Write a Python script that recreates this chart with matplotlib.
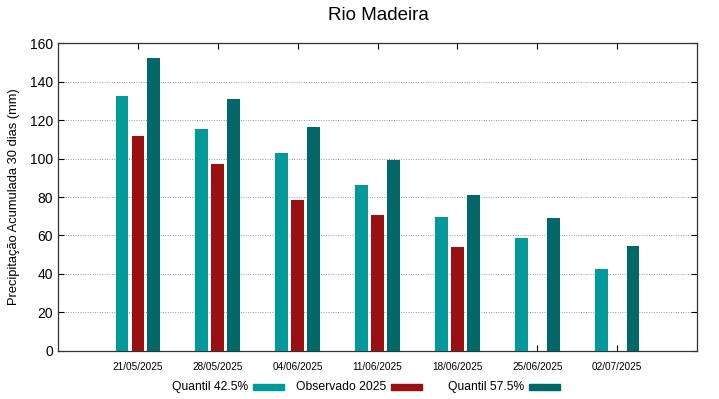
import numpy as np
from matplotlib import pyplot as plt
from matplotlib.patches import Rectangle

plt.rcParams['font.family'] = ['Liberation Sans', 'DejaVu Sans']

datas = ['21/05/2025', '28/05/2025', '04/06/2025', '11/06/2025',
         '18/06/2025', '25/06/2025', '02/07/2025']
q425 = [132.7, 115.4, 102.9, 86.5, 69.5, 58.7, 42.6]
obs2025 = [112.0, 97.4, 78.4, 70.4, 54.2, np.nan, np.nan]
q575 = [152.2, 130.8, 116.6, 99.0, 81.3, 69.1, 54.6]

cor_q425 = '#009a9a'
cor_obs = '#9a0f0f'
cor_q575 = '#006868'

fig = plt.figure(figsize=(7.19, 3.99), dpi=100)
ax = fig.add_axes([0.0807, 0.121, 0.8887, 0.7705])

x = np.arange(len(datas))
w = 0.16
ax.bar(x - 0.2, q425, w, color=cor_q425, zorder=3)
ax.bar(x, obs2025, w, color=cor_obs, zorder=3)
ax.bar(x + 0.2, q575, w, color=cor_q575, zorder=3)

ax.set_xlim(-1, 7)
ax.set_ylim(0, 160)
ax.set_xticks(x)
ax.set_xticklabels(datas, fontsize=7.2)
ax.set_yticks(np.arange(0, 161, 20))
ax.tick_params(axis='y', labelsize=10, direction='in', right=True, length=4)
ax.tick_params(axis='x', direction='in', top=True, length=4, pad=8)
ax.yaxis.grid(True, color='#999999', linestyle=(0, (1, 1.5)), linewidth=0.7)
ax.set_axisbelow(True)
for s in ax.spines.values():
    s.set_color('#333333')
    s.set_linewidth(0.9)

ax.set_ylabel('Precipitação Acumulada 30 dias (mm)', fontsize=9.3, labelpad=7)
fig.text(0.526, 0.962, 'Rio Madeira', ha='center', va='center', fontsize=13.5)

# legenda estilo gnuplot (texto antes da cor)
itens = [('Quantil 42.5%', cor_q425, 172, 253),
         ('Observado 2025', cor_obs, 296, 391),
         ('Quantil 57.5%', cor_q575, 448, 529)]
ly = 1 - 387 / 399
for txt, cor, xt, xs in itens:
    fig.text(xt / 719, ly, txt, ha='left', va='center', fontsize=8.7)
    fig.patches.append(Rectangle((xs / 719, ly - 3 / 399), 31 / 719, 6 / 399,
                                 transform=fig.transFigure, color=cor))

fig.savefig('out.png', dpi=100)
